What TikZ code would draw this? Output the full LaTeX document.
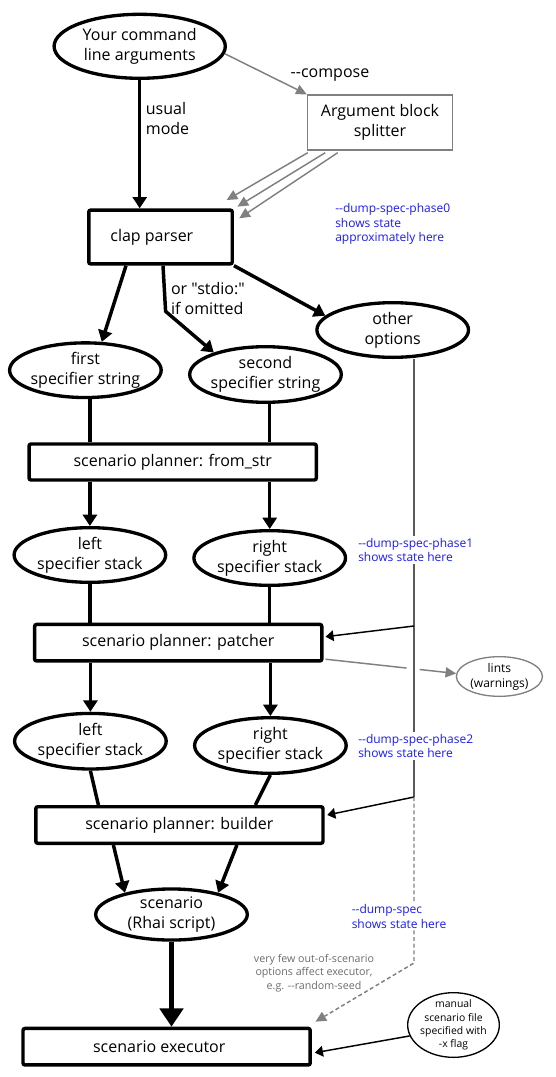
\documentclass[tikz,border=0pt]{standalone}
\usepackage{fontspec}
\setmainfont{Open Sans}[Ligatures=TeXOff]
\usepackage{xcolor}
\definecolor{flowDark}{HTML}{000000}
\definecolor{flowGray}{HTML}{808080}
\definecolor{noteGray}{HTML}{6B6B6B}
\definecolor{dumpBlue}{HTML}{1A1AFF}
\usepackage{tikz}
\usetikzlibrary{shapes.geometric,arrows.meta,calc}
\newcommand{\diagfont}{\fontsize{12}{15}\selectfont}
\newcommand{\dumpfont}{\fontsize{9}{11}\selectfont}
\newcommand{\lintfont}{\fontsize{9}{11.2}\selectfont}
\newcommand{\manualfont}{\fontsize{7.8}{10}\selectfont}
\newcommand{\execnotefont}{\fontsize{8}{10}\selectfont}
\tikzset{
    spec/.style={
        draw=flowDark,
        ellipse,
        line width=2.5pt,
        align=center,
        inner xsep=-2pt,
        inner ysep=0pt,
        minimum width=113.7pt,
        minimum height=41pt,
        font=\diagfont
    },
    planner/.style={
        draw=flowDark,
        rectangle,
        rounded corners=1.5pt,
        line width=2.6pt,
        align=center,
        inner sep=0pt,
        minimum width=215.4pt,
        minimum height=27.4pt,
        font=\diagfont
    },
    splitbox/.style={
        draw=flowGray,
        rectangle,
        line width=1.1pt,
        align=center,
        inner sep=0pt,
        minimum width=108.8pt,
        minimum height=41.2pt,
        font=\diagfont
    },
    lintbox/.style={
        draw=flowGray,
        ellipse,
        line width=1pt,
        align=center,
        inner sep=0pt,
        minimum width=64.5pt,
        minimum height=29.75pt,
        font=\lintfont
    },
    manualbox/.style={
        draw=flowDark,
        ellipse,
        line width=1pt,
        align=center,
        inner sep=-4pt,
        minimum width=68.75pt,
        minimum height=48.5pt,
        font=\manualfont
    },
    arrow/.style={
        -{Triangle[length=8.5pt,width=10.5pt]},
        line width=2.6pt,
        color=flowDark
    },
    feed/.style={
        line width=2.6pt,
        color=flowDark
    },
    bigarrow/.style={
        -{Triangle[length=13.7pt,width=17.3pt]},
        line width=3.8pt,
        color=flowDark
    },
    thinarrow/.style={
        -{Triangle[length=6pt,width=8pt]},
        line width=1.1pt,
        color=flowDark
    },
    rail/.style={
        line width=1.1pt,
        color=flowDark
    },
    grayline/.style={
        line width=1.1pt,
        color=flowGray
    },
    grayarrow/.style={
        -{Triangle[length=8pt,width=7.5pt]},
        line width=1.1pt,
        color=flowGray
    },
    dasharrow/.style={
        grayarrow,
        dash pattern=on 3pt off 2pt
    },
    sidenote/.style={
        font=\diagfont,
        align=left
    },
    dumpnote/.style={
        text=dumpBlue,
        font=\dumpfont,
        align=left,
        fill=white,
        inner sep=1.5pt,
        anchor=west
    },
    execnote/.style={
        text=noteGray,
        font=\execnotefont,
        align=center
    }
}

\begin{document}
\begin{tikzpicture}[x=0.75pt, y=-0.75pt]
    \useasboundingbox (0,0) rectangle (556,1077);

    % Input
    \node[spec, minimum width=128.4pt, minimum height=48pt] (cmdline) at (139.7,46.3) {Your command\\line arguments};
    \node[splitbox] (splitter) at (380,122.5) {Argument block\\splitter};
    \node[sidenote] (compose) at (330,75) {--compose};

    % Parser
    \node[planner, minimum width=107.6pt, minimum height=40.4pt] (clap) at (160.5,237) {\hspace*{-13pt}clap parser};

    % Specifier strings
    \node[spec] (firstspec) at (85.4,370.2) {first\\specifier string};
    \node[spec, minimum height=41.7pt] (secondspec) at (265.5,374.5) {second\\specifier string};
    \node[spec] (otheropts) at (392.7,330) {other\\options};

    % Planner stages
    \node[planner, minimum height=27pt] (fromstr) at (172.7,462) {scenario planner: from\_str};
    \node[spec] (leftstack) at (89.9,555) {left\\specifier stack};
    \node[spec] (rightstack) at (269.7,558) {right\\specifier stack};
    \node[planner] (patcher) at (178.2,642.7) {scenario planner: patcher};
    \node[lintbox] (lints) at (499.4,676.5) {lints\\(warnings)};
    \node[spec, minimum height=41.7pt] (leftstack2) at (90.4,741.2) {left\\specifier stack};
    \node[spec, minimum height=41.7pt] (rightstack2) at (270.4,745.5) {right\\specifier stack};
    \node[planner] (builder) at (179.4,825) {scenario planner: builder};

    % Execution
    \node[spec, minimum height=38.3pt] (scenario) at (171.5,914.5) {scenario\\(Rhai script)};
    \node[planner] (executor) at (166.6,1046.7) {\hspace*{-11pt}scenario executor};
    \node[manualbox] (manual) at (453.5,1025) {manual\\scenario file\\specified with\\-x flag};
    \node[execnote] (fewopts) at (314,973) {very few out-of-scenario\\options affect executor,\\e.g. --random-seed};

    % Side channel taps
    \coordinate (tap1) at (414,626);
    \coordinate (tap2) at (414,797);
    \coordinate (tap3) at (414,963);

    % Arrows
    \draw[arrow] (cmdline.south) -- node[sidenote, pos=0.3, right] {usual\\mode} (cmdline.south |- clap.north);
    \draw[grayarrow] (cmdline.-5) -- (splitter.north west);
    \draw[grayarrow] ([shift={(1,2)}]splitter.south west) -- ([shift={(-7.3,-8.3)}]clap.north east);
    \draw[grayarrow] ([shift={(18.5,2)}]splitter.south west) -- ([shift={(3.5,-1.7)}]clap.north east);
    \draw[grayarrow] ([shift={(31,2)}]splitter.south west) -- ([shift={(5.3,10)}]clap.north east);

    \draw[arrow] ([shift={(-34.5,0)}]clap.south) -- (firstspec.60);
    \draw[arrow] ([shift={(2.5,0)}]clap.south) -- node[sidenote, pos=0.72, right] {or "stdio:"\\if omitted} ++(2.6,45.7) -- (secondspec.157);
    \draw[arrow] (clap.south east) -- (otheropts.168);

    \draw[feed] (firstspec.south -| leftstack) -- (leftstack |- fromstr.north);
    \draw[feed] (secondspec.south -| rightstack) -- (rightstack |- fromstr.north);
    \draw[arrow] (leftstack |- fromstr.south) -- (leftstack.north);
    \draw[arrow] (rightstack |- fromstr.south) -- (rightstack.north);

    \draw[feed] (leftstack.south) -- (leftstack.south |- patcher.north);
    \draw[feed] (rightstack.south) -- (rightstack.south |- patcher.north);
    \draw[arrow] (leftstack2 |- patcher.south) -- (leftstack2.north);
    \draw[arrow] (rightstack2 |- patcher.south) -- (rightstack2.north);

    \draw[feed] (leftstack2.south) -- ([shift={(-81,0)}]builder.north);
    \draw[feed] (rightstack2.south) -- ([shift={(76,0)}]builder.north);
    \draw[arrow] ([shift={(-66,0)}]builder.south) -- (scenario.155);
    \draw[arrow] ([shift={(57.5,0)}]builder.south) -- (scenario.25);
    \draw[bigarrow] (scenario.south) -- (scenario.south |- executor.north);

    % Lints, broken where the rail crosses
    \coordinate (lintstart) at ([shift={(2,-3.5)}]patcher.south east);
    \draw[grayline] (lintstart) -- ($(lintstart)!0.62!(lints.176)$);
    \draw[grayarrow] ($(lintstart)!0.72!(lints.176)$) -- (lints.176);

    % Other options rail
    \draw[rail] ([shift={(21.3,0)}]otheropts.south) -- (tap1) -- (tap2);
    \draw[thinarrow] (tap1) -- ([shift={(2,-6)}]patcher.east);
    \draw[thinarrow] (tap2) -- ([shift={(2.5,-10)}]builder.east);
    \draw[dasharrow] (tap2) -- (tap3) -- ([shift={(3.5,-5)}]executor.north east);
    \draw[thinarrow] (manual.194) -- ([shift={(3,6)}]executor.east);

    % Dump notes
    \node[dumpnote] (phase0) at (333,224) {--dump-spec-phase0\\shows state\\approximately here};
    \node[dumpnote] (phase1) at (356,550) {--dump-spec-phase1\\shows state here};
    \node[dumpnote] (phase2) at (356,746) {--dump-spec-phase2\\shows state here};
    \node[dumpnote] (dumpspec) at (349.5,916.5) {--dump-spec\\shows state here};
\end{tikzpicture}
\end{document}
